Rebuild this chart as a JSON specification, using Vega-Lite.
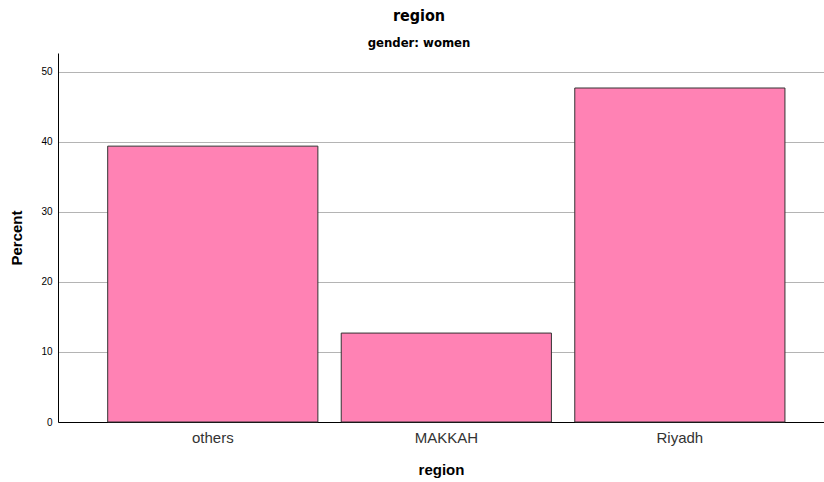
{
  "$schema": "https://vega.github.io/schema/vega-lite/v6.json",
  "autosize": "none",
  "padding": {"left": 58, "top": 53, "right": 0, "bottom": 60},
  "width": 766,
  "height": 369,
  "background": "white",
  "title": {
    "text": "region",
    "subtitle": "gender: women",
    "anchor": "middle",
    "dx": -22,
    "offset": 3,
    "font": "DejaVu Sans Condensed, Liberation Sans",
    "fontSize": 16,
    "fontWeight": "bold",
    "color": "#000000",
    "subtitleFont": "DejaVu Sans Condensed, Liberation Sans",
    "subtitleFontSize": 13,
    "subtitleFontWeight": "bold",
    "subtitleColor": "#000000",
    "subtitlePadding": 13
  },
  "data": {
    "values": [
      {"region": "others", "percent": 39.4},
      {"region": "MAKKAH", "percent": 12.7},
      {"region": "Riyadh", "percent": 47.7}
    ]
  },
  "mark": {"type": "bar", "fill": "#FF82B4", "stroke": "#333333", "strokeWidth": 1},
  "encoding": {
    "x": {
      "field": "region",
      "type": "nominal",
      "sort": ["others", "MAKKAH", "Riyadh"],
      "scale": {"paddingInner": 0.1, "paddingOuter": 0.19, "align": 0.56},
      "axis": {
        "title": "region",
        "titleFont": "Liberation Sans",
        "titleFontSize": 15,
        "titleFontWeight": "bold",
        "titleColor": "#000000",
        "titlePadding": 17,
        "labelFont": "Liberation Sans",
        "labelFontSize": 15,
        "labelColor": "#333333",
        "labelAngle": 0,
        "labelPadding": 8,
        "ticks": false,
        "domainColor": "#000000",
        "domainWidth": 1,
        "grid": false
      }
    },
    "y": {
      "field": "percent",
      "type": "quantitative",
      "scale": {"domain": [0, 52.7], "nice": false},
      "axis": {
        "title": "Percent",
        "titleFont": "Liberation Sans",
        "titleFontSize": 15,
        "titleFontWeight": "bold",
        "titleColor": "#000000",
        "titlePadding": 16,
        "values": [0, 10, 20, 30, 40, 50],
        "labelFont": "Liberation Sans",
        "labelFontSize": 10,
        "labelColor": "#000000",
        "labelPadding": 6,
        "ticks": false,
        "domainColor": "#000000",
        "domainWidth": 1,
        "grid": true,
        "gridColor": "#b4b4b4",
        "gridWidth": 1
      }
    }
  },
  "config": {"view": {"stroke": null}}
}
